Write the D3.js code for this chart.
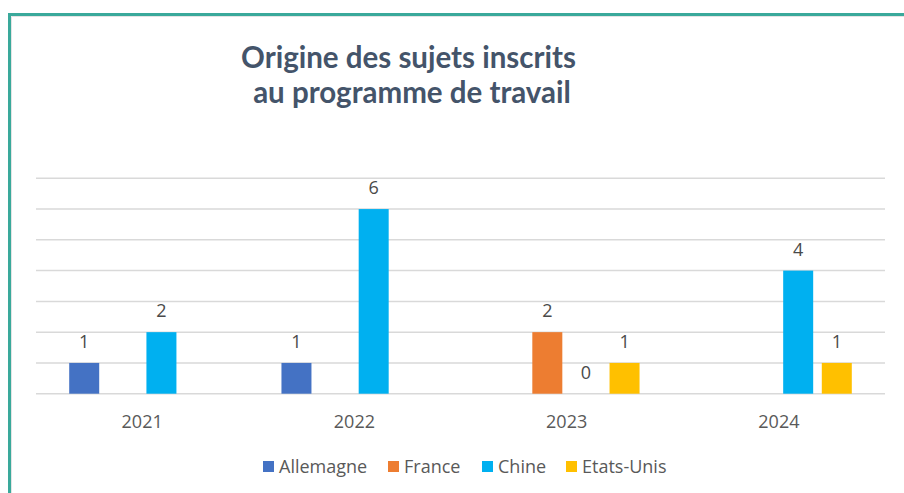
<!DOCTYPE html>
<html>
<head>
<meta charset="utf-8">
<script src="https://cdn.jsdelivr.net/npm/d3@7"></script>
<style>
  html, body { margin: 0; padding: 0; background: #ffffff; }
  svg { display: block; }
</style>
</head>
<body>
<svg id="chart" width="904" height="493"></svg>
<script>
// Years on the category axis
const years = ["2021", "2022", "2023", "2024"];
// Countries (series) shown as clustered bars
const countries = ["Allemagne", "France", "Chine", "Etats-Unis"];
// Number of subjects per country and year (null = no bar, no label)
const allemagne = [1, 1, null, null];
const france    = [null, null, 2, null];
const chine     = [2, 6, 0, 4];
const etatsUnis = [null, null, 1, 1];
// Gridline values of the hidden value axis
const gridTicks = [0, 1, 2, 3, 4, 5, 6, 7];

const seriesValues = [allemagne, france, chine, etatsUnis];
const colors = ["#4472c4", "#ed7d31", "#00b0f0", "#ffc000"];

const svg = d3.select("#chart");
const W = 904, H = 493;

// Outer frame
svg.append("rect").attr("x", 0).attr("y", 0).attr("width", W).attr("height", H).attr("fill", "#ffffff");
svg.append("path")
  .attr("d", `M9.5,${H + 5} L9.5,14.5 L${W + 5},14.5`)
  .attr("fill", "none").attr("stroke", "#3aa99b").attr("stroke-width", 3);
svg.append("path")
  .attr("d", `M11.5,${H + 5} L11.5,16.5 L${W + 5},16.5`)
  .attr("fill", "none").attr("stroke", "#e4e4e4").attr("stroke-width", 1);

// Title
const title = svg.append("text")
  .attr("text-anchor", "middle")
  .attr("fill", "#44546a")
  .attr("font-family", "Lato, 'Open Sans', sans-serif")
  .attr("font-weight", "bold")
  .attr("font-size", 29.5);
title.append("tspan").attr("x", 408.5).attr("y", 68).text("Origine des sujets inscrits");
title.append("tspan").attr("x", 412).attr("y", 103).text("au programme de travail");

// Scales
const x0 = d3.scaleBand().domain(years).range([36, 885]).padding(0);
const x1 = d3.scaleBand().domain(countries).range([0, x0.bandwidth()])
  .paddingInner(0.223).paddingOuter(0.86);
const y = d3.scaleLinear().domain([0, 7]).range([393.7, 178.3]);

// Gridlines
svg.append("g").selectAll("line").data(gridTicks).join("line")
  .attr("x1", x0.range()[0]).attr("x2", x0.range()[1])
  .attr("y1", d => y(d)).attr("y2", d => y(d))
  .attr("stroke", "#d9d9d9").attr("stroke-width", 1.5);

// Bars and data labels
const cells = [];
years.forEach((yr, i) => {
  countries.forEach((c, j) => {
    const v = seriesValues[j][i];
    if (v !== null) cells.push({ year: yr, country: c, value: v, color: colors[j] });
  });
});

svg.append("g").selectAll("rect").data(cells.filter(d => d.value > 0)).join("rect")
  .attr("x", d => x0(d.year) + x1(d.country))
  .attr("y", d => y(d.value))
  .attr("width", x1.bandwidth())
  .attr("height", d => y(0) - y(d.value))
  .attr("fill", d => d.color);

svg.append("g").selectAll("text").data(cells).join("text")
  .attr("x", d => x0(d.year) + x1(d.country) + x1.bandwidth() / 2)
  .attr("y", d => y(d.value) - 15)
  .attr("text-anchor", "middle")
  .attr("font-family", "'Open Sans', sans-serif")
  .attr("font-size", 18)
  .attr("fill", "#4a4a4a")
  .text(d => d.value);

// Category axis labels
const xAxis = d3.axisBottom(x0).tickSize(0).tickPadding(0);
const gx = svg.append("g").attr("transform", `translate(0,${y(0)})`).call(xAxis);
gx.select(".domain").remove();
gx.selectAll("text")
  .attr("dy", null)
  .attr("y", 34)
  .attr("font-family", "'Open Sans', sans-serif")
  .attr("font-size", 18)
  .attr("fill", "#595959");

// Legend
const legendX = [263, 388, 482, 566];
const legend = svg.append("g").selectAll("g").data(countries).join("g")
  .attr("transform", (d, i) => `translate(${legendX[i]},461)`);
legend.append("rect").attr("width", 11).attr("height", 11).attr("fill", (d, i) => colors[i]);
legend.append("text")
  .attr("x", 16).attr("y", 12)
  .attr("font-family", "'Open Sans', sans-serif")
  .attr("font-size", 18)
  .attr("fill", "#595959")
  .text(d => d);
</script>
</body>
</html>
